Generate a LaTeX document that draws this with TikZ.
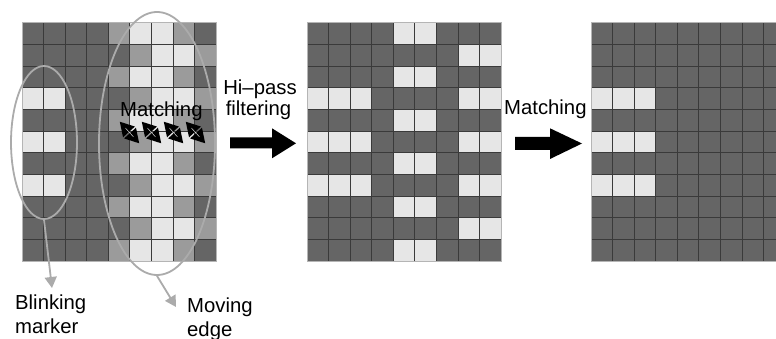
\documentclass[tikz,border=0pt]{standalone}
\usepackage{fontspec}
\setmainfont{Liberation Sans}
\usetikzlibrary{shapes.geometric,arrows.meta}
\definecolor{cd}{HTML}{656565}
\definecolor{cl}{HTML}{E6E6E6}
\definecolor{cm}{HTML}{9B9B9B}
\definecolor{bd}{HTML}{3A3A3A}
\definecolor{bm}{HTML}{4E4E4E}
\definecolor{ringgray}{HTML}{ABABAB}
\definecolor{framegray}{HTML}{B5B5B5}
\newcommand\mygrid[3]{%
  \foreach \rowlist [count=\r from 0] in {#2} {
    \foreach \cc [count=\k from 0] in \rowlist {
      \edef\bcol{\ifx\cc l#3\else\ifx\cc m bm\else bd\fi\fi}
      \filldraw[fill=c\cc, draw=\bcol, line width=0.6pt]
        ({#1+\k*21.55},{22.5+\r*21.68}) rectangle ++(21.55,21.68);
    }
  }
  \draw[framegray, line width=0.8pt] (#1,22.5) rectangle ++(193.95,238.48);
}
\tikzset{
  lbl/.style={font=\fontsize{20.3}{24}\selectfont, inner sep=0pt, anchor=base west},
  ring/.style={ellipse, draw=ringgray, line width=1.8pt, inner sep=0pt},
  pointer/.style={ringgray, line width=1.8pt, -{Triangle[length=11pt,width=12pt]}},
  blockarrow/.style={fill=black},
  headtri/.style={fill=black}
}
\begin{document}
\begin{tikzpicture}[x=1pt,y=-1pt]
\useasboundingbox (0,0) rectangle (776,339);
\begin{scope}
\clip (0,0) rectangle (776,339);
% grid 1
\mygrid{22}{{d,d,d,d,m,l,l,m,d},{d,d,d,d,d,m,l,l,m},{d,d,d,d,m,l,l,m,d},{l,l,d,d,d,m,l,l,m},{d,d,d,d,m,l,l,m,d},{l,l,d,d,d,m,l,l,m},{d,d,d,d,m,l,l,m,d},{l,l,d,d,d,m,l,l,m},{d,d,d,d,m,l,l,m,d},{d,d,d,d,d,m,l,l,m},{d,d,d,d,m,l,l,m,d}}{bd}
% grid 2
\mygrid{307}{{d,d,d,d,l,l,d,d,d},{d,d,d,d,d,d,d,l,l},{d,d,d,d,l,l,d,d,d},{l,l,l,d,d,d,d,l,l},{d,d,d,d,l,l,d,d,d},{l,l,l,d,d,d,d,l,l},{d,d,d,d,l,l,d,d,d},{l,l,l,d,d,d,d,l,l},{d,d,d,d,l,l,d,d,d},{d,d,d,d,d,d,d,l,l},{d,d,d,d,l,l,d,d,d}}{cm}
% grid 3
\mygrid{591}{{d,d,d,d,d,d,d,d,d},{d,d,d,d,d,d,d,d,d},{d,d,d,d,d,d,d,d,d},{l,l,l,d,d,d,d,d,d},{d,d,d,d,d,d,d,d,d},{l,l,l,d,d,d,d,d,d},{d,d,d,d,d,d,d,d,d},{l,l,l,d,d,d,d,d,d},{d,d,d,d,d,d,d,d,d},{d,d,d,d,d,d,d,d,d},{d,d,d,d,d,d,d,d,d}}{bd}
\end{scope}

% rings
\node[ring, minimum width=66pt, minimum height=153pt] (blink) at (44,142.5) {};
\node[ring, minimum width=116pt, minimum height=263pt] (moving) at (157,143.5) {};

% matching label inside grid 1 and double arrows
\node[lbl] (match1) at (120,117) {Matching};
\foreach \cx in {129.5,151.5,173.5,195.5} {
  \begin{scope}[shift={(\cx,132.5)}, rotate=-48]
    \fill[headtri] (-14.5,0) -- (-0.8,-8) -- (-0.8,8) -- cycle;
    \fill[headtri] (14.5,0) -- (0.8,-8) -- (0.8,8) -- cycle;
    \draw[cl, line width=0.45pt] (-6,0) -- (6,0);
  \end{scope}
}

% pointers and labels
\coordinate (blinktip) at (52,288);
\coordinate (movetip) at (176,307);
\draw[pointer] (blink.south) -- (blinktip);
\draw[pointer] (moving.south) -- (movetip);
\node[lbl] (blinking) at (15,309) {Blinking};
\node[lbl] (marker) at (15,333) {marker};
\node[lbl] (movingt) at (187,312) {Moving};
\node[lbl] (edget) at (187,336) {edge};

% middle labels
\node[lbl, anchor=base] (hipass) at (260,95) {Hi--pass};
\node[lbl, anchor=base] (filt) at (258.5,116) {filtering};
\node[lbl] (match2) at (504,115) {Matching};

% block arrows
\fill[blockarrow] (230,137.5) -- (272,137.5) -- (272,128.3) -- (296,143.3) -- (272,158.3) -- (272,148.5) -- (230,148.5) -- cycle;
\fill[blockarrow] (515,137) -- (550,137) -- (550,128.3) -- (582,143.5) -- (550,159) -- (550,150) -- (515,150) -- cycle;
\end{tikzpicture}
\end{document}
